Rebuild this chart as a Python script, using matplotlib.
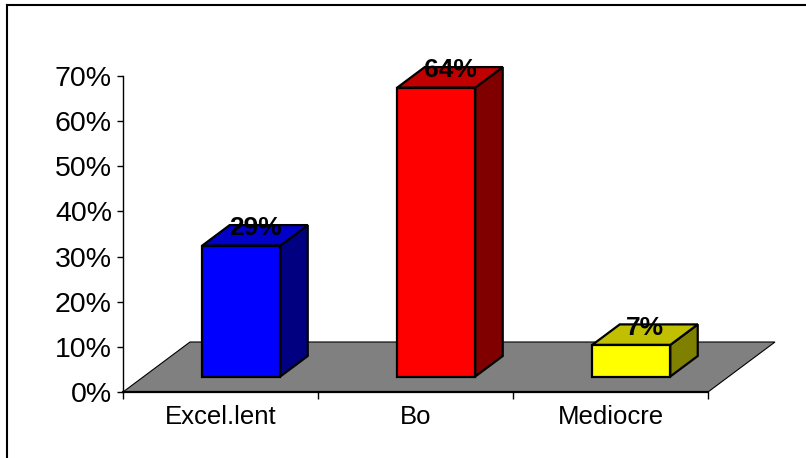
import matplotlib
matplotlib.use('Agg')
import matplotlib.pyplot as plt
from matplotlib.patches import Polygon
from matplotlib.lines import Line2D

plt.rcParams['font.family'] = ['Liberation Sans', 'DejaVu Sans']

# Data
categories = ['Excel.lent', 'Bo', 'Mediocre']
values = [29, 64, 7]

# Styles (front, side, top faces)
front_colors = ['#0000FF', '#FF0000', '#FFFF00']
side_colors = ['#000080', '#800000', '#808000']
top_colors = ['#0000C8', '#C00000', '#C0C000']

W, H = 806, 458
fig = plt.figure(figsize=(W / 100, H / 100), dpi=100)
ax = fig.add_axes([123 / W, 66 / H, 585 / W, 316 / H])
ax.set_xlim(0, len(categories))
ax.set_ylim(0, 70)

# depth of the 3d floor, in data units
dx = 67 / 195
dy = 50 / (316 / 70)
bar_w = 0.4
f0, f1 = 0.31, 0.72

n = len(categories)
floor = Polygon([(0, 0), (n, 0), (n + dx, dy), (dx, dy)], closed=True,
                fc='#808080', ec='black', lw=0.8, clip_on=False, zorder=1)
ax.add_patch(floor)

ox = (f1 - f0) * dx
oy = (f1 - f0) * dy
for i, v in enumerate(values):
    x0 = i + 0.5 - bar_w / 2 + f0 * dx
    y0 = f0 * dy
    front = [(x0, y0), (x0 + bar_w, y0), (x0 + bar_w, y0 + v), (x0, y0 + v)]
    side = [(x0 + bar_w, y0), (x0 + bar_w + ox, y0 + oy),
            (x0 + bar_w + ox, y0 + oy + v), (x0 + bar_w, y0 + v)]
    top = [(x0, y0 + v), (x0 + bar_w, y0 + v),
           (x0 + bar_w + ox, y0 + v + oy), (x0 + ox, y0 + v + oy)]
    for pts, c in [(side, side_colors[i]), (top, top_colors[i]), (front, front_colors[i])]:
        ax.add_patch(Polygon(pts, closed=True, fc=c, ec='black', lw=1.6,
                             joinstyle='miter', clip_on=False, zorder=3))
    ax.text(x0 + bar_w / 2 + ox / 2, y0 + v + oy / 2, f'{v}%', ha='center',
            va='baseline', fontsize=19, fontweight='bold', zorder=5)

# axes styling
for s in ['top', 'right']:
    ax.spines[s].set_visible(False)
ax.spines['left'].set_linewidth(1.0)
ax.spines['bottom'].set_linewidth(1.6)
ax.spines['bottom'].set_zorder(2)
ax.set_facecolor('none')

ax.set_yticks(range(0, 71, 10))
ax.set_yticklabels([f'{t}%' for t in range(0, 71, 10)])
ax.tick_params(axis='y', direction='out', length=4, width=1, pad=4, labelsize=20.5)

ax.set_xticks(range(n + 1))
ax.set_xticklabels([])
ax.set_xticks([i + 0.5 for i in range(n)], minor=True)
ax.set_xticklabels(categories, minor=True)
ax.tick_params(axis='x', which='major', direction='out', length=5, width=1)
ax.tick_params(axis='x', which='minor', length=0, pad=9, labelsize=18.5)

# chart frame lines (top and left)
fig.add_artist(Line2D([7 / W, 1], [1 - 4.5 / H, 1 - 4.5 / H], transform=fig.transFigure,
                      color='black', lw=1.5))
fig.add_artist(Line2D([7.5 / W, 7.5 / W], [0, 1 - 4.5 / H], transform=fig.transFigure,
                      color='black', lw=1.5))

fig.savefig('out.png', dpi=100)
